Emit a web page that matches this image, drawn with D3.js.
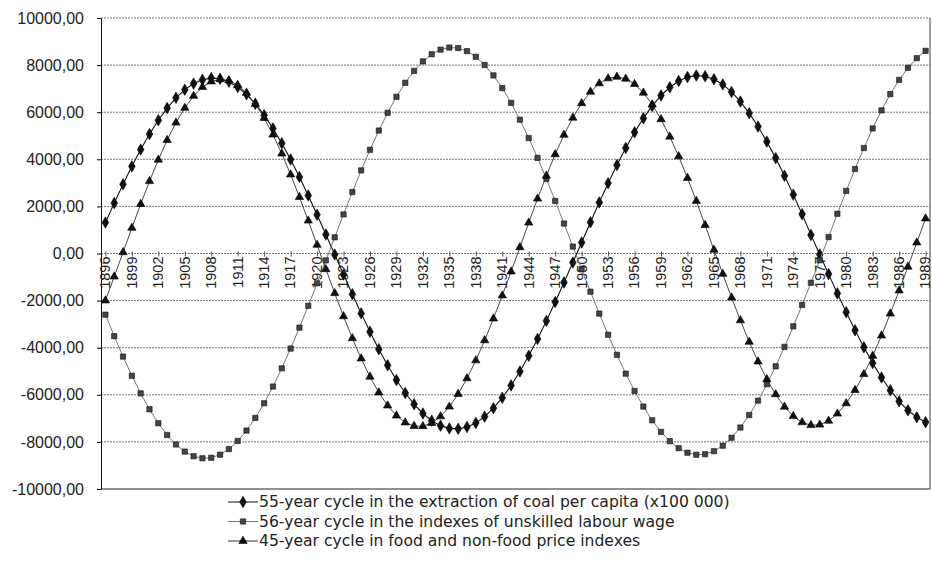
<!DOCTYPE html>
<html>
<head>
<meta charset="utf-8">
<script src="https://cdn.jsdelivr.net/npm/d3@7"></script>
<style>
  body { margin: 0; background: #fff; }
  svg { display: block; }
</style>
</head>
<body>
<div id="chart"></div>
<script>
// categories: one point per year, labels every third year
let years = d3.range(1896, 1990);
let tickYears = years.filter(function(y) { return (y - 1896) % 3 === 0; });
let yTicks = [-10000, -8000, -6000, -4000, -2000, 0, 2000, 4000, 6000, 8000, 10000];

// 55-year cycle in the extraction of coal per capita (x100 000)
let coal = [1313, 2140, 2940, 3700, 4413, 5070, 5658, 6174, 6609, 6958,
  7216, 7380, 7448, 7419, 7293, 7072, 6759, 6358, 5874, 5313,
  4682, 3992, 3249, 2464, 1645, 807, -43, -891, -1729, -2543,
  -3326, -4063, -4749, -5373, -5924, -6402, -6794, -7098, -7310, -7426,
  -7446, -7368, -7194, -6927, -6569, -6125, -5603, -5009, -4345, -3627,
  -2861, -2058, -1228, -383, 468, 1330, 2170, 2985, 3755, 4480,
  5145, 5740, 6265, 6710, 7060, 7325, 7490, 7560, 7530, 7400,
  7180, 6860, 6450, 5960, 5390, 4750, 4050, 3300, 2500, 1670,
  790, -40, -875, -1695, -2490, -3260, -3980, -4655, -5265, -5805,
  -6275, -6660, -6955, -7165];

// 56-year cycle in the indexes of unskilled labour wage
let wage = [-2596, -3509, -4378, -5191, -5940, -6615, -7207, -7707, -8110, -8412,
  -8608, -8695, -8673, -8543, -8304, -7960, -7519, -6982, -6359, -5650,
  -4875, -4037, -3148, -2221, -1265, -293, 687, 1659, 2611, 3529,
  4403, 5221, 5975, 6654, 7249, 7752, 8157, 8460, 8657, 8745,
  8723, 8592, 8352, 8006, 7562, 7022, 6395, 5682, 4903, 4060,
  3166, 2234, 1272, 295, -671, -1621, -2551, -3448, -4302, -5102,
  -5838, -6501, -7083, -7574, -7970, -8267, -8459, -8545, -8523, -8395,
  -8161, -7823, -7389, -6861, -6249, -5552, -4791, -3967, -3093, -2183,
  -1243, -288, 699, 1687, 2656, 3589, 4478, 5311, 6077, 6768,
  7373, 7885, 8297, 8605];

// 45-year cycle in food and non-food price indexes
let prices = [-1999, -983, 52, 1086, 2098, 3070, 3981, 4814, 5554, 6181,
  6690, 7066, 7304, 7398, 7347, 7152, 6817, 6347, 5754, 5045,
  4239, 3351, 2394, 1393, 363, -669, -1686, -2669, -3600, -4462,
  -5233, -5904, -6458, -6885, -7177, -7328, -7335, -7199, -6920, -6506,
  -5965, -5305, -4542, -3689, -2765, -1786, -772, 263, 1307, 2327,
  3302, 4211, 5037, 5764, 6379, 6867, 7221, 7433, 7500, 7419,
  7192, 6825, 6326, 5697, 4958, 4123, 3206, 2228, 1205, 154,
  -868, -1873, -2841, -3753, -4591, -5342, -5983, -6509, -6907, -7169,
  -7291, -7270, -7105, -6802, -6365, -5801, -5126, -4349, -3487, -2555,
  -1575, -563, 463, 1484];

let seriesNames = [
  "55-year cycle in the extraction of coal per capita (x100 000)",
  "56-year cycle in the indexes of unskilled labour wage",
  "45-year cycle in food and non-food price indexes"
];

let series = [
  { name: seriesNames[0], values: coal, symbol: d3.symbolDiamond, size: 38, fill: "#111", stroke: "#000", line: "#111", lw: 1.1 },
  { name: seriesNames[1], values: wage, symbol: d3.symbolSquare, size: 28, fill: "#444", stroke: "#111", line: "#777", lw: 1 },
  { name: seriesNames[2], values: prices, symbol: d3.symbolTriangle, size: 30, fill: "#111", stroke: "#000", line: "#333", lw: 0.9 }
];

let width = 932, height = 579;
let plotLeft = 101, plotRight = 930, plotTop = 18, plotBottom = 489;

let svg = d3.select("#chart")
  .append("svg")
  .attr("width", width)
  .attr("height", height);

let x = d3.scalePoint()
  .domain(years)
  .range([plotLeft, plotRight])
  .padding(0.5);

let y = d3.scaleLinear()
  .domain([-10000, 10000])
  .range([plotBottom, plotTop]);

function fmt(d) {
  return (d < 0 ? "-" : "") + Math.abs(d).toFixed(2).replace(".", ",");
}

// gridlines
svg.append("g")
  .selectAll("line")
  .data(yTicks)
  .enter().append("line")
  .attr("x1", plotLeft)
  .attr("x2", plotRight)
  .attr("y1", function(d) { return y(d); })
  .attr("y2", function(d) { return y(d); })
  .attr("stroke", function(d) { return d === -10000 ? "#222" : "#777"; })
  .attr("stroke-width", 1)
  .attr("stroke-dasharray", function(d) { return d === -10000 ? null : "2,1"; });

// right border
svg.append("line")
  .attr("x1", plotRight).attr("x2", plotRight)
  .attr("y1", plotTop).attr("y2", plotBottom)
  .attr("stroke", "#444");

// y axis
let yAxis = svg.append("g")
  .attr("transform", "translate(" + plotLeft + ",0)")
  .call(d3.axisLeft(y).tickValues(yTicks).tickSize(4).tickPadding(13).tickFormat(fmt));
yAxis.select(".domain").attr("stroke", "#111");
yAxis.selectAll("text")
  .attr("font-family", "'Liberation Sans', Arial, sans-serif")
  .attr("font-size", "16px")
  .attr("fill", "#222");

// category axis crossing at zero
let xAxis = svg.append("g")
  .attr("transform", "translate(0," + y(0) + ")")
  .call(d3.axisBottom(x).tickValues(tickYears).tickSize(3).tickPadding(2));
xAxis.select(".domain").remove();
xAxis.selectAll(".tick line").attr("stroke", "#555").attr("y1", -2);
xAxis.selectAll("text")
  .attr("font-family", "'Liberation Sans', Arial, sans-serif")
  .attr("font-size", "14.5px")
  .attr("fill", "#222")
  .attr("transform", "rotate(-90)")
  .attr("text-anchor", "end")
  .attr("x", -3)
  .attr("y", 0)
  .attr("dy", "0.3em");

// series lines and markers
series.forEach(function(s) {
  let line = d3.line()
    .x(function(d, i) { return x(years[i]); })
    .y(function(d) { return y(d); });

  svg.append("path")
    .datum(s.values)
    .attr("fill", "none")
    .attr("stroke", s.line)
    .attr("stroke-width", s.lw)
    .attr("d", line);

  svg.append("g")
    .selectAll("path")
    .data(s.values)
    .enter().append("path")
    .attr("transform", function(d, i) { return "translate(" + x(years[i]) + "," + y(d) + ")"; })
    .attr("d", d3.symbol().type(s.symbol).size(s.size))
    .attr("fill", s.fill)
    .attr("stroke", s.stroke)
    .attr("stroke-width", 0.6);
});

// legend
let legend = svg.append("g")
  .selectAll("g")
  .data(series)
  .enter().append("g")
  .attr("transform", function(d, i) { return "translate(228," + (502 + i * 19.5) + ")"; });

legend.append("line")
  .attr("x1", 0).attr("x2", 30)
  .attr("stroke", function(d) { return d.line; })
  .attr("stroke-width", 1);

legend.append("path")
  .attr("transform", "translate(15,0)")
  .attr("d", function(d) { return d3.symbol().type(d.symbol).size(d.size)(); })
  .attr("fill", function(d) { return d.fill; })
  .attr("stroke", function(d) { return d.stroke; })
  .attr("stroke-width", 0.6);

legend.append("text")
  .attr("x", 31)
  .attr("dy", "0.35em")
  .attr("font-family", "'DejaVu Sans', sans-serif")
  .attr("font-size", "15.6px")
  .attr("fill", "#222")
  .text(function(d) { return d.name; });
</script>
</body>
</html>
